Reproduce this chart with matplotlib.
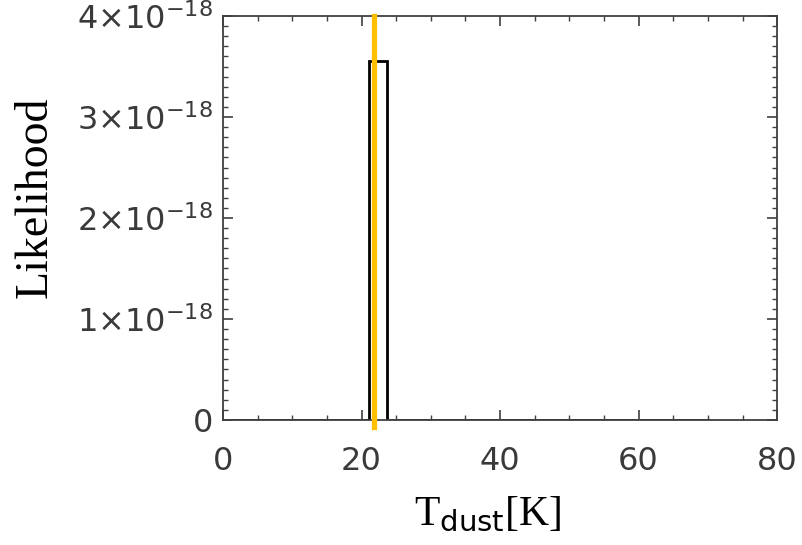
import matplotlib.pyplot as plt
from matplotlib.ticker import MultipleLocator

# histogram of the likelihood (bin edges in K, values)
edges = [1.0, 21.1, 23.7, 70.3]
likelihood = [0.0, 3.55e-18, 0.0]
t_best = 21.85

yticks = [0, 1e-18, 2e-18, 3e-18, 4e-18]
ytick_labels = ["0", "1×10$^{-18}$", "2×10$^{-18}$",
                "3×10$^{-18}$", "4×10$^{-18}$"]

plt.rcParams['mathtext.fontset'] = 'dejavusans'

fig = plt.figure(figsize=(8.02, 5.45), dpi=100)
ax = fig.add_axes([0.278, 0.2294, 0.691, 0.7412])

ax.stairs(likelihood, edges, color="black", linewidth=2)
ax.axvline(t_best, ymin=-0.018, ymax=1.0, color="#FFC000", linewidth=3.8,
           clip_on=False, zorder=5)

ax.set_xlim(0, 80)
ax.set_ylim(0, 4e-18)
ax.xaxis.set_major_locator(MultipleLocator(20))
ax.xaxis.set_minor_locator(MultipleLocator(5))
ax.set_yticks(yticks)
ax.set_yticklabels(ytick_labels)
ax.yaxis.set_minor_locator(MultipleLocator(1e-19))

ax.tick_params(which="both", direction="in", top=True, right=True,
               color="#404040", labelsize=23, labelcolor="#3a3a3a")
ax.tick_params(which="major", length=7, width=1.2)
ax.tick_params(which="minor", length=3.5, width=1.0)
ax.tick_params(axis="x", which="major", pad=19)
ax.tick_params(axis="y", which="major", pad=7)
for s in ax.spines.values():
    s.set_color("#404040")
    s.set_linewidth(1.3)

ax.set_ylabel("Likelihood", family="Liberation Serif", fontsize=33)
ax.yaxis.set_label_coords(-0.30, 0.55)
ax.set_xlabel(r"T$_{\mathrm{dust}}$[K]", family="Liberation Serif",
              fontsize=30)
ax.xaxis.set_label_coords(0.477, -0.185)

plt.savefig("out.png", dpi=100)
